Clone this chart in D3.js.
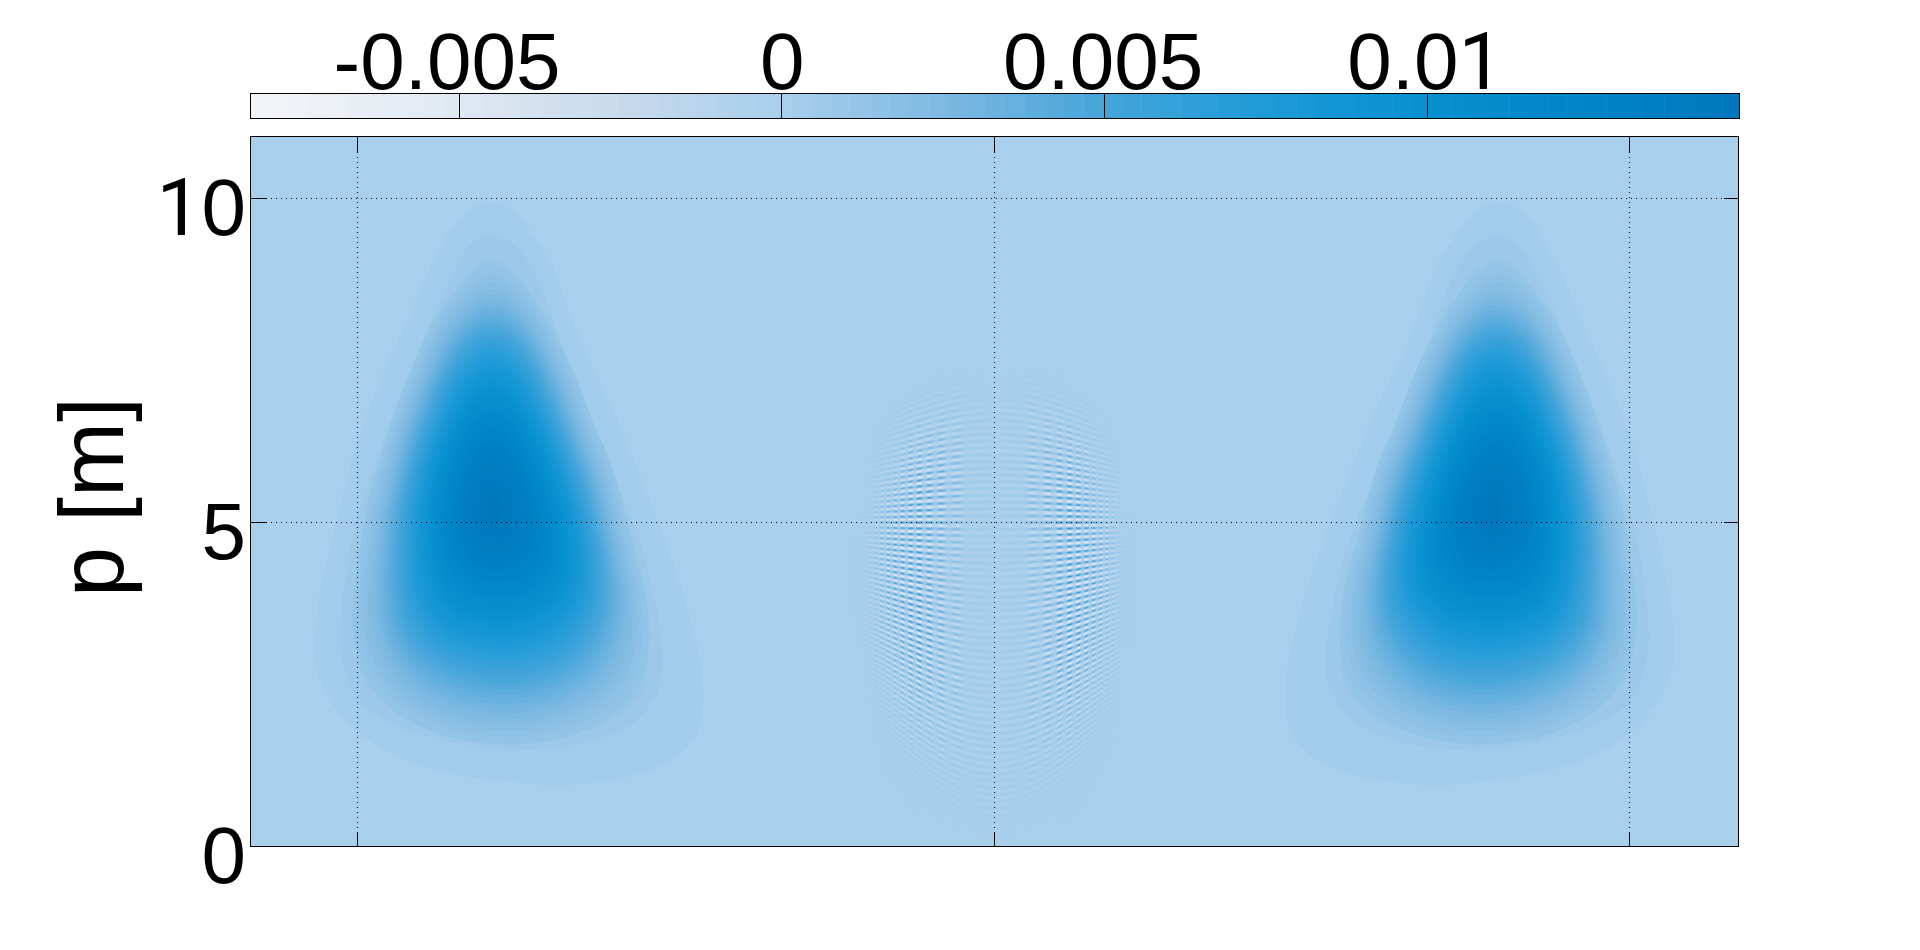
<!DOCTYPE html>
<html>
<head>
<meta charset="utf-8">
<script src="https://cdn.jsdelivr.net/npm/d3@7/dist/d3.min.js"></script>
<style>
html,body{margin:0;padding:0;background:#fff;overflow:hidden}
svg{display:block}
text{font-family:"Liberation Sans",Arial,sans-serif;fill:#000}
</style>
</head>
<body>
<svg id="chart" width="1920" height="950"></svg>
<script>
// ---- Data ----
const yTicks = [0, 5, 10];
const xTicks = [-10.02, 0, 10];
const colorTicks = [-0.005, 0, 0.005, 0.01];
const colorTickLabels = ["-0.005", "0", "0.005", "0.01"];
const yTickLabels = ["0", "5", "10"];
const yLabel = "p [m]";
const valueUnit = 1e-4;

// colour bar samples: value, colour
const colorStopValues = [-0.0082, -0.005, -0.0025, 0, 0.0025, 0.005, 0.0075, 0.01, 0.0125, 0.0148];
const colorStopHex = ["#f3f5f8", "#e0e8f1", "#c8daec", "#a8cfec", "#7eb9e2", "#45a5da", "#1e9ad7", "#0690d0", "#0084c8", "#0077bd"];

// The three faint outer bands of the left lobe, outlines [x, p]
const bandValues = [3.6, 7, 10];
const band1 = [[-7.95,9.95],[-7.52,9.76],[-7.26,9.43],[-6.95,8.94],[-6.58,7.96],[-5.95,6.62],[-5.29,5],[-4.80,3.57],[-4.59,2.54],[-4.66,1.80],[-5.01,1.38],[-5.69,1.10],[-6.74,0.95],[-7.79,1.01],[-8.84,1.20],[-9.62,1.50],[-10.26,1.99],[-10.60,2.54],[-10.70,2.96],[-10.62,3.88],[-10.36,5],[-10.07,6.13],[-9.70,7.11],[-9.20,8.21],[-8.79,9.12],[-8.37,9.73]];
const band2 = [[-7.95,9.43],[-7.58,9.30],[-7.26,8.88],[-6.84,7.84],[-6.37,6.5],[-5.69,5],[-5.43,4.18],[-5.22,2.96],[-5.29,2.41],[-5.69,1.90],[-6.48,1.59],[-7.68,1.49],[-8.73,1.65],[-9.57,1.93],[-10.05,2.29],[-10.28,2.96],[-10.27,3.70],[-10.05,5],[-9.60,6.32],[-9.05,7.72],[-8.63,8.63],[-8.26,9.27]];
const band3 = [[-7.95,9.06],[-7.58,8.91],[-7.26,8.45],[-6.90,7.48],[-6.42,6.13],[-5.95,5],[-5.61,3.88],[-5.45,2.96],[-5.58,2.35],[-6.05,1.93],[-6.95,1.71],[-7.95,1.71],[-8.94,1.90],[-9.62,2.23],[-9.97,2.66],[-10.07,3.27],[-10.02,4.06],[-9.86,5],[-9.47,6.26],[-8.99,7.41],[-8.57,8.45],[-8.26,8.91]];

// Lobe values, unit = valueUnit; the second lobe is its mirror image
const lobeX = [-11, -10.5, -10, -9.5, -9, -8.5, -8, -7.5, -7, -6.5, -6, -5.5, -5, -4.5, -4];
const lobeP = [10.5, 10, 9.5, 9, 8.5, 8, 7.5, 7, 6.5, 6, 5.5, 5, 4.5, 4, 3.5, 3, 2.5, 2, 1.5, 1, 0.5, 0];
const lobeValues = [
  [0,0,0,0,0,0,0,0,0,0,0,0,0,0,0],
  [0,0,0,0,0,0,0.4,0,0,0,0,0,0,0,0],
  [0,0,0,0,0,1,4,1,0,0,0,0,0,0,0],
  [0,0,0,0,0,2.5,13,5,0,0,0,0,0,0,0],
  [0,0,0,0,1,8,27,13,2,0,0,0,0,0,0],
  [0,0,0,0,2,30,52,38,4,0,0,0,0,0,0],
  [0,0,0,0.5,10,55,80,68,18,1,0,0,0,0,0],
  [0,0,0,1.5,25,82,102,90,40,4,0,0,0,0,0],
  [0,0,0.2,5,48,102,125,112,65,10,1,0,0,0,0],
  [0,0,1,12,70,118,142,128,88,30,3,0,0,0,0],
  [0,0.2,2.5,24,85,128,150,140,105,52,6,1,0,0,0],
  [0,0.6,4,35,90,130,150,143,115,70,12,2,0,0,0],
  [0,1,7,38,90,124,138,134,116,80,22,3,0,0,0],
  [0,1.5,11,38,82,108,117,115,104,78,34,5,0.8,0,0],
  [0,2,12,38,70,88,93,93,82,62,32,9,1.5,0,0],
  [0,2.5,10,27,48,60,66,66,60,45,26,9,2,0.3,0],
  [0,2,7,16,28,38,42,43,38,28,17,8,2.5,0.5,0],
  [0,1,3.5,7,12,18,21,21,18,13,8,4,2,0.3,0],
  [0,0.2,1,2,3.5,5,6,6.5,6,4.5,3,2,1,0,0],
  [0,0,0,0,0.3,0.6,1,1.1,1,0.7,0.3,0,0,0,0],
  [0,0,0,0,0,0,0,0,0,0,0,0,0,0,0],
  [0,0,0,0,0,0,0,0,0,0,0,0,0,0,0]
];

// Interference amplitude (by |x| and p), unit = valueUnit
const fringeAbsX = [0, 0.4, 0.8, 1.2, 1.6, 2.0, 2.4];
const fringeP = [7.5, 7, 6.5, 6, 5.5, 5, 4.5, 4, 3.5, 3, 2.5, 2, 1.5, 1, 0.5, 0];
const fringeAmp = [
  [0,0,0,0,0,0,0],
  [0,3,3,1,0,0,0],
  [0,8,16,14,2,0,0],
  [0,12,32,38,10,0,0],
  [0,12,40,60,24,0,0],
  [0,10,35,65,42,2,0],
  [0,8,30,65,50,3,0],
  [0,8,30,65,50,3,0],
  [0,8,32,65,42,2,0],
  [0,8,32,60,30,1,0],
  [0,10,28,40,16,0,0],
  [0,10,20,20,6,0,0],
  [1,8,10,8,2,0,0],
  [2,4,4,2,1,0,0],
  [2,2,1,1,0,0,0],
  [0,0,0,0,0,0,0]
];
const fringeRowPeriodP = 0.105;    // stripe spacing
const fringeChirp = 18;            // column spacing narrows away from x = 0
const fringeBendA = 0.095;         // stripes arch about p = 5
const fringeGain = 0.95;

// ---- Layout ----
const plot = {left: 250.5, right: 1738.5, top: 136.5, bottom: 846.5};
const bar = {left: 250.5, right: 1738.5, top: 93.5, bottom: 118.5};

const xScale = d3.scaleLinear().domain([-11.71, 11.71]).range([plot.left, plot.right]);
const yScale = d3.scaleLinear().domain([0, 10.957]).range([plot.bottom, plot.top]);
const barScale = d3.scaleLinear().domain([-0.00823, 0.01482]).range([bar.left, bar.right]);
const colorScale = d3.scaleLinear().domain(colorStopValues).range(colorStopHex)
  .interpolate(d3.interpolateRgb).clamp(true);

const svg = d3.select("#chart");

// digits "1" in the reference have no foot: that glyph comes from Roboto
function fillNumber(sel, label) {
  label.split(/(1)/).filter(s => s).forEach(part => {
    const t = sel.append("tspan").text(part);
    if (part === "1") t.style("font-family", "Roboto");
  });
}

// ---- Colour bar ----
const barSteps = d3.range(barScale.domain()[0], barScale.domain()[1], 0.0003);
svg.append("g").selectAll("rect").data(barSteps).join("rect")
  .attr("x", d => barScale(d))
  .attr("y", bar.top)
  .attr("width", d => barScale(Math.min(d + 0.0003, barScale.domain()[1])) - barScale(d) + 0.5)
  .attr("height", bar.bottom - bar.top)
  .attr("fill", d => colorScale(d + 0.00015));
svg.append("rect")
  .attr("x", bar.left).attr("y", bar.top)
  .attr("width", bar.right - bar.left + 1).attr("height", bar.bottom - bar.top)
  .attr("fill", "none").attr("stroke", "#000").attr("shape-rendering", "crispEdges");
svg.append("g").selectAll("line").data(colorTicks).join("line")
  .attr("x1", d => Math.floor(barScale(d)) + 0.5).attr("x2", d => Math.floor(barScale(d)) + 0.5)
  .attr("y1", bar.top).attr("y2", bar.bottom)
  .attr("stroke", "#000").attr("shape-rendering", "crispEdges");
const barLabelShift = [-12, 0.5, -1.5, -2];
svg.append("g").selectAll("text").data(colorTicks).join("text")
  .attr("x", (d, i) => barScale(d) + barLabelShift[i])
  .attr("y", 89)
  .attr("text-anchor", "middle")
  .attr("font-size", 80)
  .each(function(d, i) { fillNumber(d3.select(this), colorTickLabels[i]); });

// ---- Field ----
svg.append("defs").append("clipPath").attr("id", "plotClip").append("rect")
  .attr("x", plot.left).attr("y", plot.top)
  .attr("width", plot.right - plot.left).attr("height", plot.bottom - plot.top);
const field = svg.append("g").attr("clip-path", "url(#plotClip)");
field.append("rect")
  .attr("x", plot.left).attr("y", plot.top)
  .attr("width", plot.right - plot.left).attr("height", plot.bottom - plot.top)
  .attr("fill", colorScale(0));

// resample the read table onto a fine lattice so the contour paths are smooth
function cr(a, b, c, d, t) {
  return 0.5 * (2*b + (c-a)*t + (2*a - 5*b + 4*c - d)*t*t + (3*b - a - 3*c + d)*t*t*t);
}
const ups = 10;
const nr = lobeP.length, nc = lobeX.length;
const fw = (nc - 1) * ups + 1, fh = (nr - 1) * ups + 1;
const fine = new Float64Array(fw * fh);
const at = (r, c) => lobeValues[Math.max(0, Math.min(nr-1, r))][Math.max(0, Math.min(nc-1, c))];
for (let j = 0; j < fh; j++) {
  const rf = j / ups, r = Math.min(Math.floor(rf), nr - 2), tr = rf - r;
  for (let i = 0; i < fw; i++) {
    const cf = i / ups, c = Math.min(Math.floor(cf), nc - 2), tc = cf - c;
    const rows = [-1, 0, 1, 2].map(k =>
      cr(at(r+k, c-1), at(r+k, c), at(r+k, c+1), at(r+k, c+2), tc));
    fine[j * fw + i] = cr(rows[0], rows[1], rows[2], rows[3], tr);
  }
}
if (d3.blur2) d3.blur2({data: fine, width: fw, height: fh}, 5);
const levels = d3.range(10, 150, 3);
const contours = d3.contours().size([fw, fh]).smooth(true).thresholds(levels)(fine);
const gridToX = d3.scaleLinear().domain([0, fw - 1]).range([lobeX[0], lobeX[nc-1]]);
const gridToP = d3.scaleLinear().domain([0, fh - 1]).range([lobeP[0], lobeP[nr-1]]);
const bands = [band1, band2, band3];
[1, -1].forEach(side => {
  const outline = d3.line()
    .x(d => xScale(side * d[0])).y(d => yScale(d[1]))
    .curve(d3.curveCatmullRomClosed.alpha(0.5));
  field.append("g").selectAll("path").data(bands).join("path")
    .attr("d", outline)
    .attr("fill", (d, i) => colorScale(bandValues[i] * valueUnit));
  const path = d3.geoPath(d3.geoTransform({
    point(px, py) { this.stream.point(xScale(side * gridToX(px)), yScale(gridToP(py))); }
  }));
  field.append("g").selectAll("path").data(contours).join("path")
    .attr("d", path)
    .attr("fill", (d, i) => colorScale((levels[i] + 3) * valueUnit));
});

// interference stripes, painted into an image laid over the field
function ampAt(ax, p) {
  if (ax >= fringeAbsX[fringeAbsX.length-1] || p >= fringeP[0] || p <= 0) return 0;
  const cf = d3.bisectRight(fringeAbsX, ax) - 1;
  const tc = (ax - fringeAbsX[cf]) / (fringeAbsX[cf+1] - fringeAbsX[cf]);
  const rf = (fringeP[0] - p) / (fringeP[0] - fringeP[1]);
  const r = Math.floor(rf), tr = rf - r;
  const v0 = fringeAmp[r][cf] * (1-tc) + fringeAmp[r][cf+1] * tc;
  const v1 = fringeAmp[r+1][cf] * (1-tc) + fringeAmp[r+1][cf+1] * tc;
  return v0 * (1-tr) + v1 * tr;
}
const fx0 = Math.floor(xScale(-2.5)), fx1 = Math.ceil(xScale(2.5));
const fy0 = Math.floor(yScale(7.6)), fy1 = Math.ceil(yScale(0));
const canvas = document.createElement("canvas");
canvas.width = fx1 - fx0; canvas.height = fy1 - fy0;
const ctx = canvas.getContext("2d");
const img = ctx.createImageData(canvas.width, canvas.height);
for (let py = fy0; py < fy1; py++) {
  for (let px = fx0; px < fx1; px++) {
    const x = xScale.invert(px + 0.5), p = yScale.invert(py + 0.5);
    const amp = ampAt(Math.abs(x), p);
    if (amp <= 0) continue;
    const bend = 1 + fringeBendA * x * x;
    const rowPhase = 2 * Math.PI * (p - 5) * bend / fringeRowPeriodP;
    const colPhase = fringeChirp * x * x;
    const v = fringeGain * amp * Math.cos(rowPhase) * (0.62 + 0.38 * Math.cos(colPhase));
    const col = d3.rgb(colorScale(v * valueUnit));
    const k = ((py - fy0) * canvas.width + (px - fx0)) * 4;
    img.data[k] = col.r; img.data[k+1] = col.g; img.data[k+2] = col.b; img.data[k+3] = 255;
  }
}
ctx.putImageData(img, 0, 0);
field.append("image")
  .attr("x", fx0).attr("y", fy0)
  .attr("width", canvas.width).attr("height", canvas.height)
  .attr("href", canvas.toDataURL());

// ---- Grid, frame, ticks ----
const dot = "1 4";
const axes = svg.append("g").attr("stroke", "#000").attr("fill", "none").attr("shape-rendering", "crispEdges");
const sx = d => Math.floor(xScale(d)) + 0.5;
const sy = d => Math.floor(yScale(d)) + 0.5;
axes.append("g").selectAll("line").data(xTicks).join("line")
  .attr("x1", sx).attr("x2", sx).attr("y1", plot.top).attr("y2", plot.bottom).attr("stroke-dasharray", dot);
axes.append("g").selectAll("line").data(yTicks.slice(1)).join("line")
  .attr("y1", sy).attr("y2", sy).attr("x1", plot.left).attr("x2", plot.right).attr("stroke-dasharray", dot);
const tickLen = 15;
xTicks.forEach(d => {
  axes.append("line").attr("x1", sx(d)).attr("x2", sx(d)).attr("y1", plot.top).attr("y2", plot.top + tickLen);
  axes.append("line").attr("x1", sx(d)).attr("x2", sx(d)).attr("y1", plot.bottom).attr("y2", plot.bottom - tickLen);
});
yTicks.slice(1).forEach(d => {
  axes.append("line").attr("y1", sy(d)).attr("y2", sy(d)).attr("x1", plot.left).attr("x2", plot.left + tickLen);
  axes.append("line").attr("y1", sy(d)).attr("y2", sy(d)).attr("x1", plot.right).attr("x2", plot.right - tickLen);
});
axes.append("rect")
  .attr("x", plot.left).attr("y", plot.top)
  .attr("width", plot.right - plot.left).attr("height", plot.bottom - plot.top);

// ---- Labels ----
svg.append("g").selectAll("text").data(yTicks).join("text")
  .attr("x", 246)
  .attr("y", d => yScale(d) + 36)
  .attr("text-anchor", "end")
  .attr("font-size", 80)
  .each(function(d, i) { fillNumber(d3.select(this), yTickLabels[i]); });
svg.append("text")
  .attr("transform", "translate(123,497) rotate(-90)")
  .attr("text-anchor", "middle")
  .attr("font-size", 90)
  .text(yLabel);
</script>
</body>
</html>
